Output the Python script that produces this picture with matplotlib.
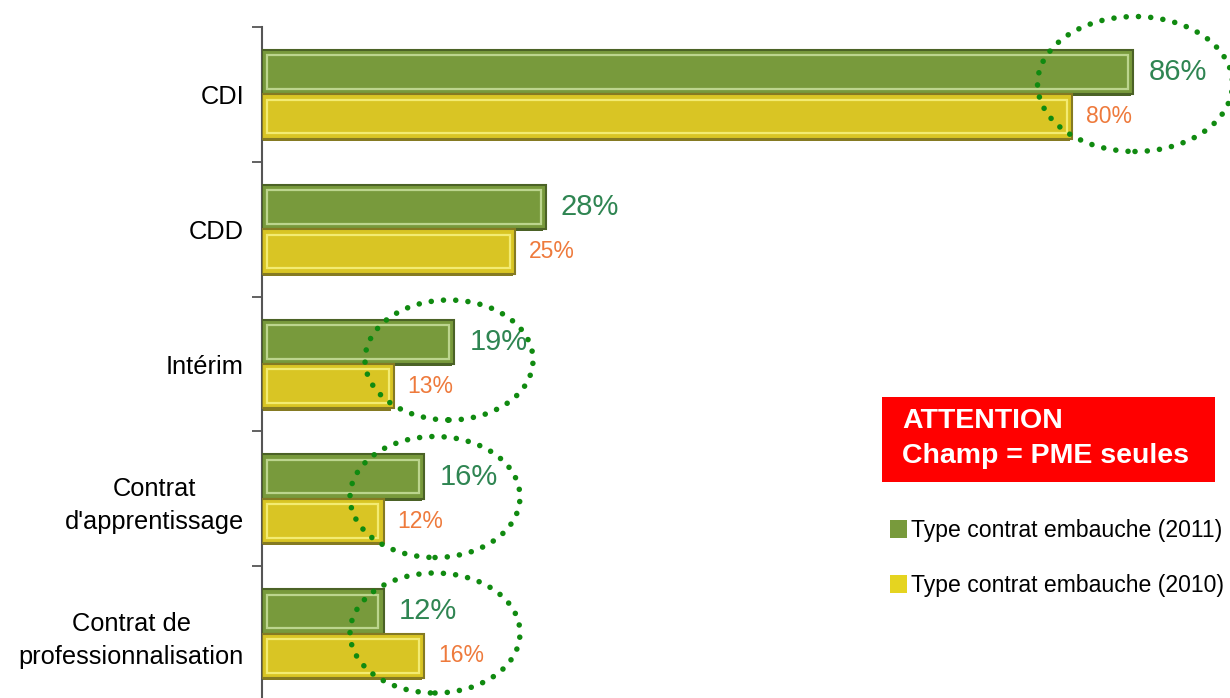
#!/usr/bin/env python3
import numpy as np
import matplotlib.pyplot as plt
from matplotlib.patches import Ellipse, Patch, Rectangle

plt.rcParams['font.family'] = ['Liberation Sans', 'DejaVu Sans']

categories = ["CDI", "CDD", "Intérim", "Contrat\nd'apprentissage", "Contrat de\nprofessionnalisation"]
val_2011 = [86, 28, 19, 16, 12]
val_2010 = [80, 25, 13, 12, 16]
series_labels = ["Type contrat embauche (2011)", "Type contrat embauche (2010)"]

GREEN, GREEN_DK, GREEN_LT = "#789a3c", "#4b6226", "#bcd58e"
YEL, YEL_DK, YEL_LT = "#d9c524", "#857a22", "#f3eb72"
LBL_GREEN, LBL_ORANGE = "#2f8552", "#ee7a3c"
DOT = "#108a10"

W, H = 1230, 698
fig = plt.figure(figsize=(W / 100, H / 100), dpi=100)
ax = fig.add_axes([262 / W, (H - 701) / H, (W - 262) / W, 674 / H])

y = np.arange(len(categories))
h = 0.33


def fancy_bars(yc, vals, face, dark, light):
    # ombre + barre + liseré clair pour imiter l'effet 3D
    ax.barh(yc + 0.015, vals, left=-0.25, height=h, color=dark, zorder=2)
    ax.barh(yc, vals, height=h, color=face, edgecolor=dark, linewidth=1.5, zorder=3)
    v = np.array(vals, dtype=float)
    ax.barh(yc, v - 1.0, left=0.5, height=h - 0.08, fill=False,
            edgecolor=light, linewidth=1.6, zorder=4)


fancy_bars(y - h / 2, val_2011, GREEN, GREEN_DK, GREEN_LT)
fancy_bars(y + h / 2, val_2010, YEL, YEL_DK, YEL_LT)

for yi, v in zip(y - h / 2, val_2011):
    ax.annotate(f"{v}%", (v, yi), xytext=(11, 0), textcoords="offset points",
                va="center", ha="left", fontsize=21, color=LBL_GREEN)
for yi, v in zip(y + h / 2, val_2010):
    ax.annotate(f"{v}%", (v, yi), xytext=(10, 0), textcoords="offset points",
                va="center", ha="left", fontsize=16.5, color=LBL_ORANGE)

ax.set_xlim(0, (W - 262) / 10.13)
ax.set_ylim(len(categories) - 0.5, -0.5)
ax.set_yticks(y)
ax.set_yticklabels(categories, fontsize=18.3, multialignment="center", linespacing=1.45)
ax.tick_params(axis="y", which="major", length=0, pad=13)
ax.set_yticks(np.arange(len(categories)) - 0.5, minor=True)
ax.tick_params(axis="y", which="minor", length=7, width=1.3, color="#555555")
ax.set_xticks([])
for s in ["top", "right", "bottom"]:
    ax.spines[s].set_visible(False)
ax.spines["left"].set_color("#555555")
ax.spines["left"].set_linewidth(1.5)

# ellipses pointillées (pixels -> fraction de figure)
ellipses = [(1135, 84, 195, 135), (449, 360, 168, 120), (435, 497, 170, 121), (435, 633, 170, 120)]
for cx, cy, ew, eh in ellipses:
    e = Ellipse((cx / W, 1 - cy / H), ew / W, eh / H, transform=fig.transFigure,
                fill=False, edgecolor=DOT, linewidth=4.0, linestyle=(0, (0.01, 2.2)),
                capstyle="round", zorder=10)
    fig.add_artist(e)

# encadré rouge
fig.add_artist(Rectangle((882 / W, 1 - 482 / H), 333 / W, 85 / H, transform=fig.transFigure,
                         facecolor="#ff0000", edgecolor="none"))
fig.text(902 / W, 1 - 421 / H, "ATTENTION", color="white", fontsize=20.5,
         fontweight="bold", ha="left", va="center")
fig.text(902 / W, 1 - 456 / H, "Champ = PME seules", color="white", fontsize=20.5,
         fontweight="bold", ha="left", va="center")

handles = [Patch(facecolor=GREEN, edgecolor="none"), Patch(facecolor="#e5d420", edgecolor="none")]
fig.legend(handles, series_labels, loc="upper left", bbox_to_anchor=(890 / W, 1 - 519 / H),
           frameon=False, fontsize=16.6, handlelength=0.75, handleheight=0.85,
           handletextpad=0.15, labelspacing=1.4, borderaxespad=0, borderpad=0)

fig.savefig("out.png", dpi=100)
